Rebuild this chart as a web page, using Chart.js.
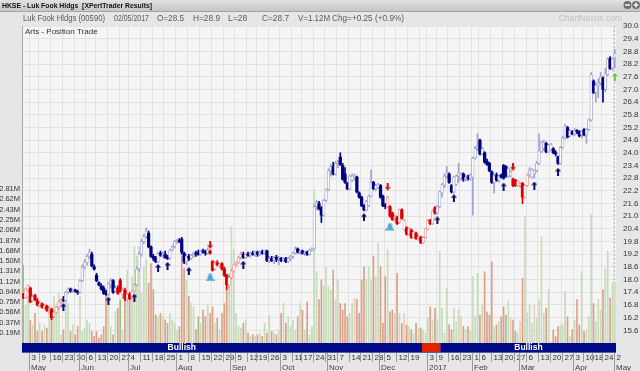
<!DOCTYPE html>
<html>
<head>
<meta charset="utf-8">
<script src="https://cdn.jsdelivr.net/npm/chart.js@4.4.1/dist/chart.umd.min.js"></script>
<style>
  html, body { margin: 0; padding: 0; background: #e6e6e6; }
  #wrap { width: 640px; height: 371px; }
</style>
</head>
<body>
<div id="wrap"><canvas id="stockChart" width="640" height="371"></canvas></div>
<script>
// HKEX trading days, 27 Apr 2016 .. 2 May 2017
const holidays = ['2016-05-02', '2016-06-09', '2016-07-01', '2016-09-16', '2016-10-10', '2016-12-26', '2016-12-27',
  '2017-01-02', '2017-01-30', '2017-01-31', '2017-04-04', '2017-04-14', '2017-04-17', '2017-05-01'];
const hiddenWeekLabels = ['2016-12-28'];
const monthNames = ['Jan', 'Feb', 'Mar', 'Apr', 'May', 'Jun', 'Jul', 'Aug', 'Sep', 'Oct', 'Nov', 'Dec'];

// daily prices (HK$)
const open = [
  17.3, 17.15, 17.5, 17.6, 17.0, 17.25, 17.0, 16.8, 16.85, 16.7,
  16.75, 16.55, 16.6, 16.25, 16.45, 16.7, 16.95, 17.05, 17.0, 17.4,
  17.55, 17.45, 17.5, 17.45, 17.4, 17.95, 18.6, 18.8, 19.1, 19.2,
  18.6, 18.2, 17.85, 17.7, 17.6, 17.4, 17.3, 17.75, 17.95, 17.45,
  17.6, 17.95, 17.3, 17.5, 17.1, 17.3, 17.1, 17.45, 17.75, 18.5,
  19.2, 19.8, 20.05, 20.2, 19.55, 19.1, 19.05, 18.85, 19.25, 19.15,
  19.2, 19.05, 19.0, 19.4, 19.55, 19.8, 19.85, 19.9, 19.25, 18.85,
  19.1, 19.0, 19.15, 19.25, 19.3, 19.2, 19.35, 19.3, 19.25, 19.35,
  18.85, 18.5, 18.8, 18.7, 18.75, 18.5, 18.2, 17.75, 18.1, 18.4,
  18.7, 18.8, 19.05, 19.2, 19.05, 19.2, 19.15, 19.25, 19.2, 19.3,
  19.2, 19.3, 19.25, 19.35, 18.9, 19.0, 18.9, 19.05, 18.95, 19.0,
  18.9, 19.0, 18.85, 19.0, 19.1, 19.25, 19.45, 19.3, 19.35, 19.25,
  19.3, 19.2, 19.4, 19.45, 21.45, 21.6, 21.4, 21.05, 21.75, 22.25,
  23.15, 23.35, 23.0, 23.5, 23.8, 23.4, 23.0, 22.55, 22.3, 22.7,
  22.8, 22.85, 22.1, 21.9, 21.5, 21.3, 21.5, 21.95, 22.6, 22.3,
  22.35, 22.45, 21.95, 21.5, 21.45, 21.45, 21.15, 20.9, 20.95, 20.7,
  21.3, 20.35, 20.45, 20.15, 20.35, 20.0, 20.2, 19.95, 20.0, 19.75,
  20.0, 20.4, 20.8, 20.65, 21.4, 21.15, 21.45, 22.1, 22.45, 22.9,
  23.0, 22.45, 22.15, 22.5, 22.9, 22.8, 23.0, 22.75, 22.85, 22.8,
  22.85, 23.75, 24.2, 24.6, 23.95, 24.0, 23.6, 23.5, 23.1, 22.6,
  22.95, 22.7, 22.95, 23.4, 23.35, 22.9, 22.9, 22.75, 22.7, 22.45,
  22.45, 22.55, 21.9, 22.45, 22.95, 22.85, 23.0, 23.15, 23.5, 24.05,
  24.2, 24.45, 24.05, 24.15, 24.2, 24.0, 23.8, 23.5, 24.25, 24.7,
  25.2, 24.8, 25.0, 24.9, 25.05, 25.0, 24.85, 25.1, 24.85, 25.1,
  25.55, 27.4, 26.85, 27.2, 27.3, 27.55, 27.0, 27.7, 28.45, 28.0,
  28.5
];
const high = [
  17.35, 17.6, 17.75, 17.65, 17.3, 17.3, 17.1, 16.95, 16.9, 16.85,
  16.8, 16.7, 16.65, 16.5, 16.75, 17.0, 17.1, 17.2, 17.45, 17.6,
  17.6, 17.55, 17.55, 17.5, 18.0, 18.7, 18.95, 19.2, 19.45, 19.3,
  18.7, 18.3, 17.9, 17.8, 17.7, 17.5, 17.85, 18.05, 18.0, 17.7,
  17.7, 18.05, 17.6, 17.6, 17.35, 17.4, 17.5, 17.8, 18.6, 19.3,
  19.9, 20.15, 20.45, 20.3, 19.6, 19.2, 19.1, 19.3, 19.35, 19.3,
  19.35, 19.15, 19.45, 19.6, 19.85, 19.9, 19.95, 20.0, 19.3, 19.2,
  19.2, 19.2, 19.3, 19.35, 19.4, 19.4, 19.45, 19.4, 19.5, 19.4,
  18.9, 18.85, 18.9, 18.8, 18.8, 18.6, 18.25, 18.2, 18.5, 18.75,
  18.85, 19.1, 19.3, 19.3, 19.25, 19.3, 19.3, 19.35, 19.35, 19.35,
  19.35, 19.4, 19.4, 19.4, 19.1, 19.1, 19.1, 19.15, 19.1, 19.05,
  19.05, 19.05, 19.05, 19.15, 19.3, 19.55, 19.5, 19.4, 19.4, 19.35,
  19.35, 19.45, 19.5, 21.55, 21.75, 21.7, 21.45, 21.8, 22.3, 23.25,
  23.45, 23.55, 23.6, 23.65, 24.0, 23.5, 23.3, 22.6, 22.95, 23.0,
  23.0, 22.9, 22.15, 21.95, 21.55, 21.75, 22.0, 23.2, 22.65, 22.5,
  22.55, 22.5, 22.0, 21.6, 21.95, 21.5, 21.2, 21.05, 21.0, 21.35,
  21.35, 20.85, 20.5, 20.45, 20.4, 20.3, 20.25, 20.1, 20.05, 20.05,
  20.45, 20.85, 20.85, 21.3, 21.45, 21.5, 22.2, 22.55, 23.0, 23.35,
  23.05, 22.5, 22.9, 22.95, 23.5, 23.05, 23.05, 22.95, 22.95, 23.0,
  23.8, 24.3, 24.9, 24.65, 24.25, 24.05, 23.7, 23.55, 23.15, 23.0,
  23.05, 22.95, 23.0, 23.45, 23.4, 23.3, 23.2, 22.8, 22.75, 22.7,
  22.6, 22.6, 22.5, 23.0, 23.3, 23.25, 23.2, 23.6, 24.9, 24.55,
  24.6, 24.5, 24.4, 24.45, 24.25, 24.1, 23.85, 24.3, 24.8, 25.35,
  25.25, 25.1, 25.05, 25.15, 25.1, 25.05, 25.05, 25.15, 25.15, 25.6,
  27.8, 27.45, 27.3, 27.5, 27.8, 27.6, 28.0, 28.5, 28.55, 28.5,
  28.9
];
const low = [
  17.1, 17.1, 17.45, 16.9, 16.95, 17.0, 16.75, 16.7, 16.65, 16.6,
  16.5, 16.4, 16.1, 16.2, 16.4, 16.6, 16.85, 16.95, 16.95, 17.35,
  17.4, 17.4, 17.4, 17.3, 17.35, 17.9, 18.5, 18.7, 19.0, 18.6,
  18.45, 17.9, 17.7, 17.5, 17.3, 17.25, 17.25, 17.6, 17.35, 17.4,
  17.3, 17.4, 17.1, 17.0, 16.95, 17.05, 17.05, 17.4, 17.7, 18.4,
  19.1, 19.7, 19.95, 19.5, 19.05, 18.9, 18.8, 18.8, 19.1, 19.05,
  19.0, 18.95, 18.95, 19.35, 19.5, 19.7, 19.75, 19.2, 18.75, 18.7,
  18.9, 18.95, 19.05, 19.1, 19.15, 19.15, 19.25, 19.15, 19.2, 19.2,
  18.4, 18.45, 18.65, 18.55, 18.45, 18.15, 17.5, 17.6, 18.0, 18.35,
  18.6, 18.75, 18.95, 19.0, 19.0, 19.1, 19.05, 19.15, 19.1, 19.1,
  19.15, 19.2, 19.2, 18.85, 18.8, 18.85, 18.75, 18.85, 18.7, 18.85,
  18.85, 18.8, 18.8, 18.9, 19.0, 19.2, 19.25, 19.2, 19.2, 19.15,
  19.15, 19.15, 19.35, 19.4, 21.3, 21.3, 20.7, 21.0, 21.7, 22.2,
  22.9, 22.95, 22.95, 23.3, 23.4, 22.7, 22.55, 22.25, 22.25, 22.65,
  22.7, 22.1, 21.85, 21.45, 21.25, 21.25, 21.45, 21.9, 22.25, 22.2,
  22.3, 21.85, 21.45, 21.35, 21.4, 20.95, 20.8, 20.75, 20.6, 20.65,
  20.85, 20.3, 20.1, 20.1, 19.95, 19.95, 19.9, 19.85, 19.7, 19.7,
  19.95, 20.35, 20.6, 20.6, 21.1, 21.1, 21.4, 21.9, 22.35, 22.8,
  22.55, 22.1, 22.1, 22.45, 22.6, 22.7, 22.65, 22.65, 22.7, 22.7,
  21.05, 23.7, 24.1, 23.9, 23.9, 23.5, 23.4, 23.1, 22.55, 22.1,
  22.65, 22.6, 22.8, 22.75, 22.85, 22.85, 22.85, 22.4, 22.4, 22.4,
  22.35, 21.6, 21.85, 22.4, 22.85, 22.8, 22.8, 23.1, 23.45, 24.0,
  24.1, 24.0, 24.0, 24.1, 23.95, 23.85, 23.45, 23.45, 24.2, 24.65,
  24.7, 24.75, 24.85, 24.8, 24.9, 24.75, 24.7, 24.8, 24.45, 25.05,
  25.5, 26.8, 26.4, 26.6, 27.2, 26.4, 26.9, 27.65, 27.95, 27.9,
  28.0
];
const close = [
  17.15, 17.55, 17.7, 16.95, 17.2, 17.05, 16.8, 16.85, 16.7, 16.75,
  16.55, 16.6, 16.2, 16.45, 16.7, 16.95, 17.05, 17.0, 17.4, 17.55,
  17.45, 17.5, 17.45, 17.4, 17.95, 18.6, 18.85, 19.1, 19.3, 18.65,
  18.5, 17.95, 17.75, 17.55, 17.35, 17.3, 17.8, 17.95, 17.4, 17.6,
  17.35, 17.45, 17.5, 17.1, 17.3, 17.1, 17.45, 17.75, 18.5, 19.2,
  19.8, 20.05, 20.3, 19.55, 19.1, 19.0, 18.85, 19.25, 19.15, 19.2,
  19.05, 19.0, 19.4, 19.55, 19.8, 19.85, 19.8, 19.3, 18.85, 19.1,
  19.0, 19.15, 19.25, 19.2, 19.2, 19.35, 19.3, 19.25, 19.4, 19.25,
  18.45, 18.8, 18.7, 18.75, 18.5, 18.2, 17.75, 18.1, 18.4, 18.7,
  18.8, 19.05, 19.2, 19.05, 19.2, 19.15, 19.25, 19.2, 19.3, 19.2,
  19.3, 19.25, 19.35, 18.9, 19.0, 18.9, 19.05, 18.95, 19.0, 18.9,
  19.0, 18.85, 19.0, 19.1, 19.25, 19.45, 19.3, 19.35, 19.25, 19.3,
  19.2, 19.4, 19.45, 21.45, 21.65, 21.35, 21.05, 21.75, 22.25, 23.15,
  23.35, 23.0, 23.5, 23.55, 23.45, 22.75, 22.6, 22.3, 22.9, 22.9,
  22.85, 22.15, 21.9, 21.5, 21.3, 21.7, 21.95, 22.6, 22.3, 22.45,
  22.5, 21.9, 21.5, 21.45, 21.9, 21.0, 20.85, 20.95, 20.65, 21.3,
  20.9, 20.8, 20.15, 20.4, 20.0, 20.25, 19.95, 20.0, 19.75, 20.0,
  20.4, 20.8, 20.65, 21.25, 21.15, 21.45, 22.15, 22.5, 22.9, 23.05,
  22.6, 22.15, 22.85, 22.9, 23.05, 23.0, 22.75, 22.85, 22.8, 22.95,
  23.75, 24.2, 24.3, 23.95, 24.2, 23.55, 23.45, 23.15, 22.6, 22.95,
  22.7, 22.9, 22.85, 22.8, 22.9, 23.25, 23.1, 22.45, 22.45, 22.65,
  22.55, 21.9, 22.45, 22.95, 23.2, 23.2, 23.15, 23.5, 24.1, 24.5,
  24.5, 24.05, 24.35, 24.4, 24.0, 23.95, 23.5, 24.25, 24.7, 25.25,
  24.75, 25.05, 24.9, 25.05, 25.0, 24.8, 25.0, 24.85, 25.1, 25.55,
  27.7, 26.85, 27.2, 27.3, 27.6, 27.0, 27.75, 28.45, 28.0, 28.45,
  28.7
];
// daily volume, millions of shares
const volume = [
  1.42, 0.69, 0.85, 0.41, 0.33, 0.54, 0.21, 0.36, 0.21, 0.33,
  0.27, 0.66, 0.48, 0.85, 0.66, 0.91, 0.15, 0.24, 0.85, 0.72,
  0.21, 0.33, 0.15, 0.30, 0.85, 0.21, 0.27, 0.42, 0.36, 0.21,
  0.12, 0.21, 0.09, 0.15, 0.30, 0.85, 1.03, 0.30, 0.15, 0.57,
  0.63, 0.79, 0.24, 0.97, 1.33, 0.91, 1.21, 1.76, 1.58, 1.76,
  0.91, 1.39, 1.52, 1.09, 1.45, 0.97, 0.51, 0.48, 0.54, 0.48,
  0.42, 0.36, 0.54, 0.42, 0.36, 0.24, 0.30, 1.58, 1.36, 1.15,
  0.85, 0.72, 0.66, 0.24, 0.48, 0.36, 0.60, 0.48, 0.69, 0.54,
  0.66, 0.36, 0.45, 0.24, 0.54, 0.72, 0.94, 1.27, 2.12, 1.70,
  0.54, 0.30, 0.27, 0.36, 0.42, 0.18, 0.12, 0.15, 0.12, 0.15,
  0.18, 0.12, 0.36, 0.18, 0.51, 0.21, 0.18, 0.15, 0.24, 0.54,
  0.72, 0.36, 0.48, 0.30, 0.42, 0.24, 0.48, 0.72, 0.60, 0.24,
  0.75, 0.15, 0.30, 2.79, 1.30, 0.79, 1.15, 1.03, 1.39, 1.03,
  0.97, 1.33, 0.79, 1.15, 0.72, 0.60, 0.72, 0.48, 0.54, 0.72,
  0.82, 0.79, 0.54, 1.15, 1.39, 1.15, 1.39, 1.15, 1.58, 1.21,
  1.82, 1.39, 0.36, 1.21, 1.70, 0.57, 0.60, 0.54, 1.27, 0.54,
  0.36, 0.54, 0.33, 0.30, 0.24, 0.18, 0.36, 0.27, 0.27, 0.24,
  0.18, 0.45, 0.66, 0.42, 0.63, 0.42, 1.67, 0.63, 0.18, 1.00,
  0.33, 0.24, 0.63, 0.39, 0.60, 0.49, 0.30, 0.24, 0.30, 0.21,
  1.21, 0.48, 1.27, 0.51, 0.69, 1.30, 0.57, 0.51, 1.48, 0.30,
  0.33, 0.39, 0.48, 0.66, 0.51, 0.77, 0.45, 0.42, 0.21, 0.18,
  0.39, 1.18, 2.31, 0.55, 0.69, 0.36, 0.70, 0.45, 0.79, 1.94,
  0.54, 0.63, 0.97, 0.02, 0.24, 0.12, 0.30, 0.33, 0.33, 0.94,
  0.48, 0.12, 0.24, 0.42, 0.79, 0.33, 1.30, 0.21, 0.24, 0.48,
  2.34, 0.72, 0.39, 0.79, 0.60, 0.97, 1.36, 1.67, 0.82, 1.10,
  1.12
];

// signals (day index into the trading-day list)
const redRanges = [[0, 16], [40, 46], [79, 92], [154, 174], [207, 213]];
const upArrowIdx = [17, 36, 47, 57, 61, 70, 93, 144, 175, 182, 203, 216, 226];
const upArrowPrice = [16.7, 17.0, 17.15, 18.55, 18.65, 18.4, 18.7, 20.95, 20.8, 21.85, 22.4, 22.45, 23.1];
const downArrowIdx = [79, 154, 207];
const downArrowPrice = [19.65, 22.4, 23.35];
const bellIdx = [79, 155];
const bellPrice = [18.1, 20.5];
const buyIdx = [250];
const buyPrice = [27.6];
const bandFrom = [-34, 169, 177];
const bandTo = [168, 176, 250];
const bandState = ['Bullish', 'Bearish', 'Bullish'];

// tick labels
const priceTicks = ['15.6', '16.2', '16.8', '17.4', '18.0', '18.6', '19.2', '19.8', '20.4', '21.0', '21.6', '22.2', '22.8',
  '23.4', '24.0', '24.6', '25.2', '25.8', '26.4', '27.0', '27.6', '28.2', '28.8', '29.4', '30.0'];
const volTicks = ['0.19M', '0.37M', '0.56M', '0.75M', '0.94M', '1.12M', '1.31M', '1.50M', '1.68M', '1.87M', '2.06M',
  '2.25M', '2.43M', '2.62M', '2.81M'];

function tradingDays(from, to) {
  const out = [];
  const d = new Date(from + 'T00:00:00Z');
  const end = new Date(to + 'T00:00:00Z');
  while (d <= end) {
    const s = d.toISOString().slice(0, 10);
    const wd = d.getUTCDay();
    if (wd !== 0 && wd !== 6 && !holidays.includes(s)) out.push(s);
    d.setUTCDate(d.getUTCDate() + 1);
  }
  return out;
}
const days = tradingDays('2016-04-27', '2017-05-02');

const dayGap = (a, b) => (new Date(b) - new Date(a)) / 86400000;
const weekStart = days.map((s, i) => i > 0 &&
  (new Date(s).getUTCDay() < new Date(days[i - 1]).getUTCDay() || dayGap(days[i - 1], s) >= 7));
const monthStart = days.map((s, i) => i > 0 && s.slice(5, 7) !== days[i - 1].slice(5, 7));

const isRed = i => redRanges.some(([a, b]) => i >= a && i <= b);
const isUp = i => close[i] >= open[i];
const darkCol = i => isRed(i) ? '#d40000' : '#000080';
const lightCol = i => isRed(i) ? '#ee9c9c' : '#a2a2d0';

function makeArrow(color, down) {
  const c = document.createElement('canvas');
  c.width = 6; c.height = 8;
  const g = c.getContext('2d');
  g.fillStyle = color;
  g.beginPath();
  [[3, 0], [6, 3.5], [4, 3.5], [4, 8], [2, 8], [2, 3.5], [0, 3.5]].forEach(([px, py], k) => {
    const yy = down ? 8 - py : py;
    if (k) g.lineTo(px, yy); else g.moveTo(px, yy);
  });
  g.closePath();
  g.fill();
  return c;
}
function makeBell() {
  const c = document.createElement('canvas');
  c.width = 9; c.height = 8;
  const g = c.getContext('2d');
  g.fillStyle = '#4ea6dc';
  g.beginPath();
  g.moveTo(3, 0.5); g.lineTo(6, 0.5); g.lineTo(7.5, 6); g.lineTo(1.5, 6);
  g.closePath();
  g.fill();
  g.fillRect(0, 6, 9, 1.5);
  return c;
}

const markerSet = (idx, price, icon) => ({
  type: 'line',
  data: idx.map((i, k) => ({ x: days[i], y: price[k] })),
  yAxisID: 'y',
  showLine: false,
  pointStyle: icon,
  pointRadius: 4,
  order: 0
});

const chromePlugin = {
  id: 'chrome',
  beforeDraw(chart) {
    const { ctx, chartArea: a, width, height } = chart;
    ctx.save();
    ctx.fillStyle = '#e6e6e6';
    ctx.fillRect(0, 0, width, height);
    // window title bar
    const grad = ctx.createLinearGradient(0, 0, 0, 11);
    grad.addColorStop(0, '#e2e2e2');
    grad.addColorStop(1, '#c6c6c6');
    ctx.fillStyle = grad;
    ctx.fillRect(0, 0, width, 11);
    ctx.fillStyle = '#a4a4a4';
    ctx.fillRect(0, 11, width, 1);
    ctx.fillStyle = '#111';
    ctx.textBaseline = 'middle';
    ctx.font = 'bold 8px "Liberation Sans", Arial, sans-serif';
    ctx.fillText('HKSE - Luk Fook Hldgs  [XPertTrader Results]', 2, 6, 150);
    [[627.5, '-'], [636, '+']].forEach(([cx, sym]) => {
      ctx.fillStyle = '#6e6e6e';
      ctx.beginPath(); ctx.arc(cx, 5, 4, 0, Math.PI * 2); ctx.fill();
      ctx.fillStyle = '#fff';
      ctx.fillRect(cx - 2.5, 4.3, 5, 1.4);
      if (sym === '+') ctx.fillRect(cx - 0.7, 2.5, 1.4, 5);
    });
    // quote line
    const last = days.length - 1;
    const chg = close[last] - close[last - 1];
    const d = days[last];
    const info = [
      ['Luk Fook Hldgs (00590)', 23, 82],
      [d.slice(8, 10) + '/' + d.slice(5, 7) + '/' + d.slice(0, 4), 114, 35],
      ['O=' + open[last], 157, 27],
      ['H=' + high[last], 193, 27],
      ['L=' + low[last], 228, 20],
      ['C=' + close[last], 262, 27],
      ['V=' + volume[last].toFixed(2) + 'M', 298, 32],
      ['Chg=' + (chg >= 0 ? '+' : '') + chg.toFixed(2) + ' (' + (chg >= 0 ? '+' : '') +
        (chg / close[last - 1] * 100).toFixed(1) + '%)', 332, 72]
    ];
    ctx.fillStyle = '#5a5a5a';
    info.forEach(([t, x, w], k) => {
      ctx.font = (k === 0 ? '9.5px' : '8.5px') + ' "Liberation Sans", Arial, sans-serif';
      ctx.fillText(t, x, 18.5, w);
    });
    ctx.fillStyle = '#c2c2c2';
    ctx.font = '8.5px "Liberation Sans", Arial, sans-serif';
    ctx.textAlign = 'right';
    ctx.fillText('ChartNexus.com', 622, 18.5);
    // plot background
    ctx.fillStyle = '#f5f5f5';
    ctx.fillRect(a.left, a.top, a.right - a.left, a.bottom - a.top);
    ctx.restore();
  },
  beforeDatasetsDraw(chart) {
    const { ctx, chartArea: a, scales: { x } } = chart;
    const half = (x.getPixelForValue(1) - x.getPixelForValue(0)) / 2;
    ctx.save();
    ctx.strokeStyle = '#b8b8b8';
    ctx.setLineDash([2, 2]);
    const lx = Math.round(x.getPixelForValue(days.length - 1) - half) + 0.5;
    ctx.beginPath(); ctx.moveTo(lx, a.top); ctx.lineTo(lx, a.bottom); ctx.stroke();
    ctx.setLineDash([]);
    ctx.fillStyle = '#333';
    ctx.font = '8px "Liberation Sans", Arial, sans-serif';
    ctx.textBaseline = 'middle';
    ctx.fillText('Arts - Position Trade', a.left + 3, a.top + 6);
    ctx.restore();
  },
  afterDraw(chart) {
    const { ctx, chartArea: a, scales: { x } } = chart;
    const half = (x.getPixelForValue(1) - x.getPixelForValue(0)) / 2;
    const edge = i => x.getPixelForValue(i) - half;
    ctx.save();
    // signal band
    const bandTop = a.bottom, bandH = 9;
    bandState.forEach((state, k) => {
      const x0 = Math.max(a.left, edge(bandFrom[k]));
      const x1 = Math.min(a.right, edge(bandTo[k] + 1));
      ctx.fillStyle = state === 'Bullish' ? '#000a86' : '#dc2400';
      ctx.fillRect(x0, bandTop, x1 - x0, bandH);
    });
    ctx.fillStyle = '#4a2a8a';
    ctx.fillRect(edge(bandTo[1] + 1) - 1, bandTop, 1, bandH);
    ctx.fillStyle = '#fff';
    ctx.font = 'bold 8.5px "Liberation Sans", Arial, sans-serif';
    ctx.textAlign = 'center';
    ctx.textBaseline = 'middle';
    bandState.forEach((state, k) => {
      if (state !== 'Bullish') return;
      const cx = (edge(bandFrom[k]) + edge(bandTo[k] + 1)) / 2;
      ctx.fillText(state, cx, bandTop + bandH / 2 + 0.5);
    });
    ctx.fillStyle = '#5060a0';
    ctx.fillRect(a.left, bandTop + bandH, a.right - a.left, 1);
    // date axis
    ctx.textAlign = 'left';
    ctx.font = '8px "Liberation Sans", Arial, sans-serif';
    const rowTop = bandTop + bandH + 1;
    days.forEach((s, i) => {
      const sx = Math.round(edge(i)) + 0.5;
      if (monthStart[i]) {
        ctx.strokeStyle = '#9a9a9a';
        ctx.beginPath(); ctx.moveTo(sx, rowTop); ctx.lineTo(sx, 371); ctx.stroke();
        const m = +s.slice(5, 7) - 1;
        ctx.fillStyle = '#444';
        ctx.fillText(m === 0 ? s.slice(0, 4) : monthNames[m], sx + 1.5, rowTop + 14.5);
      }
      if (weekStart[i] && !hiddenWeekLabels.includes(s)) {
        ctx.strokeStyle = '#9a9a9a';
        ctx.beginPath(); ctx.moveTo(sx, rowTop); ctx.lineTo(sx, rowTop + 9); ctx.stroke();
        ctx.fillStyle = '#333';
        ctx.fillText(String(+s.slice(8, 10)), sx + 2, rowTop + 5);
      }
    });
    ctx.restore();
  }
};

new Chart(document.getElementById('stockChart').getContext('2d'), {
  type: 'bar',
  data: {
    labels: days,
    datasets: [
      {
        label: 'Volume',
        data: volume,
        yAxisID: 'yVol',
        grouped: false,
        barThickness: 1,
        backgroundColor: volume.map((v, i) => {
          const rise = i === 0 || close[i] >= close[i - 1];
          if (rise) return isUp(i) ? '#c6dcbb' : '#9cc28c';
          return isUp(i) ? '#eccdc0' : '#dca088';
        }),
        order: 4
      },
      {
        label: 'Range',
        data: low.map((l, i) => [l, high[i]]),
        yAxisID: 'y',
        grouped: false,
        barThickness: 1,
        backgroundColor: low.map((l, i) => isUp(i) ? lightCol(i) : darkCol(i)),
        order: 3
      },
      {
        label: 'Body',
        data: open.map((o, i) => [Math.min(o, close[i]), Math.max(o, close[i])]),
        yAxisID: 'y',
        grouped: false,
        barThickness: 2.6,
        minBarLength: 1,
        borderSkipped: false,
        backgroundColor: open.map((o, i) => isUp(i) ? '#ffffff' : darkCol(i)),
        borderColor: open.map((o, i) => isUp(i) ? lightCol(i) : darkCol(i)),
        borderWidth: open.map((o, i) => isUp(i) ? 0.8 : 0),
        order: 2
      },
      markerSet(upArrowIdx, upArrowPrice, makeArrow('#0c0c6c', false)),
      markerSet(downArrowIdx, downArrowPrice, makeArrow('#c81010', true)),
      markerSet(buyIdx, buyPrice, makeArrow('#6cbf4a', false)),
      markerSet(bellIdx, bellPrice, makeBell())
    ]
  },
  options: {
    responsive: false,
    animation: false,
    layout: { padding: { top: 26, left: 0, right: 0, bottom: 0 } },
    plugins: { legend: { display: false }, tooltip: { enabled: false } },
    scales: {
      x: {
        type: 'category',
        offset: true,
        grid: {
          offset: true,
          drawTicks: false,
          color: c => weekStart[c.index] ? '#e3e3e3' : 'rgba(0,0,0,0)'
        },
        border: { display: false },
        ticks: { display: false, autoSkip: false },
        afterFit: s => { s.height = 28; }
      },
      y: {
        type: 'linear',
        position: 'right',
        min: 15,
        max: 30,
        grid: { color: '#e3e3e3', drawTicks: false },
        border: { display: false },
        afterBuildTicks: s => { s.ticks = priceTicks.map(t => ({ value: parseFloat(t) })); },
        ticks: {
          padding: 7,
          color: '#333',
          font: { family: '"Liberation Sans", Arial, sans-serif', size: 8 },
          callback: (v, i) => priceTicks[i]
        },
        afterFit: s => { s.width = 24; }
      },
      yVol: {
        type: 'linear',
        position: 'left',
        min: 0,
        max: 5.78,
        grid: { display: false, drawTicks: false },
        border: { display: true, color: '#a8a8a8' },
        afterBuildTicks: s => { s.ticks = volTicks.map(t => ({ value: parseFloat(t) })); },
        ticks: {
          padding: 2,
          color: '#333',
          font: { family: '"Liberation Sans", Arial, sans-serif', size: 7.5 },
          callback: (v, i) => volTicks[i]
        },
        afterFit: s => { s.width = 22; }
      }
    }
  },
  plugins: [chromePlugin]
});
</script>
</body>
</html>
